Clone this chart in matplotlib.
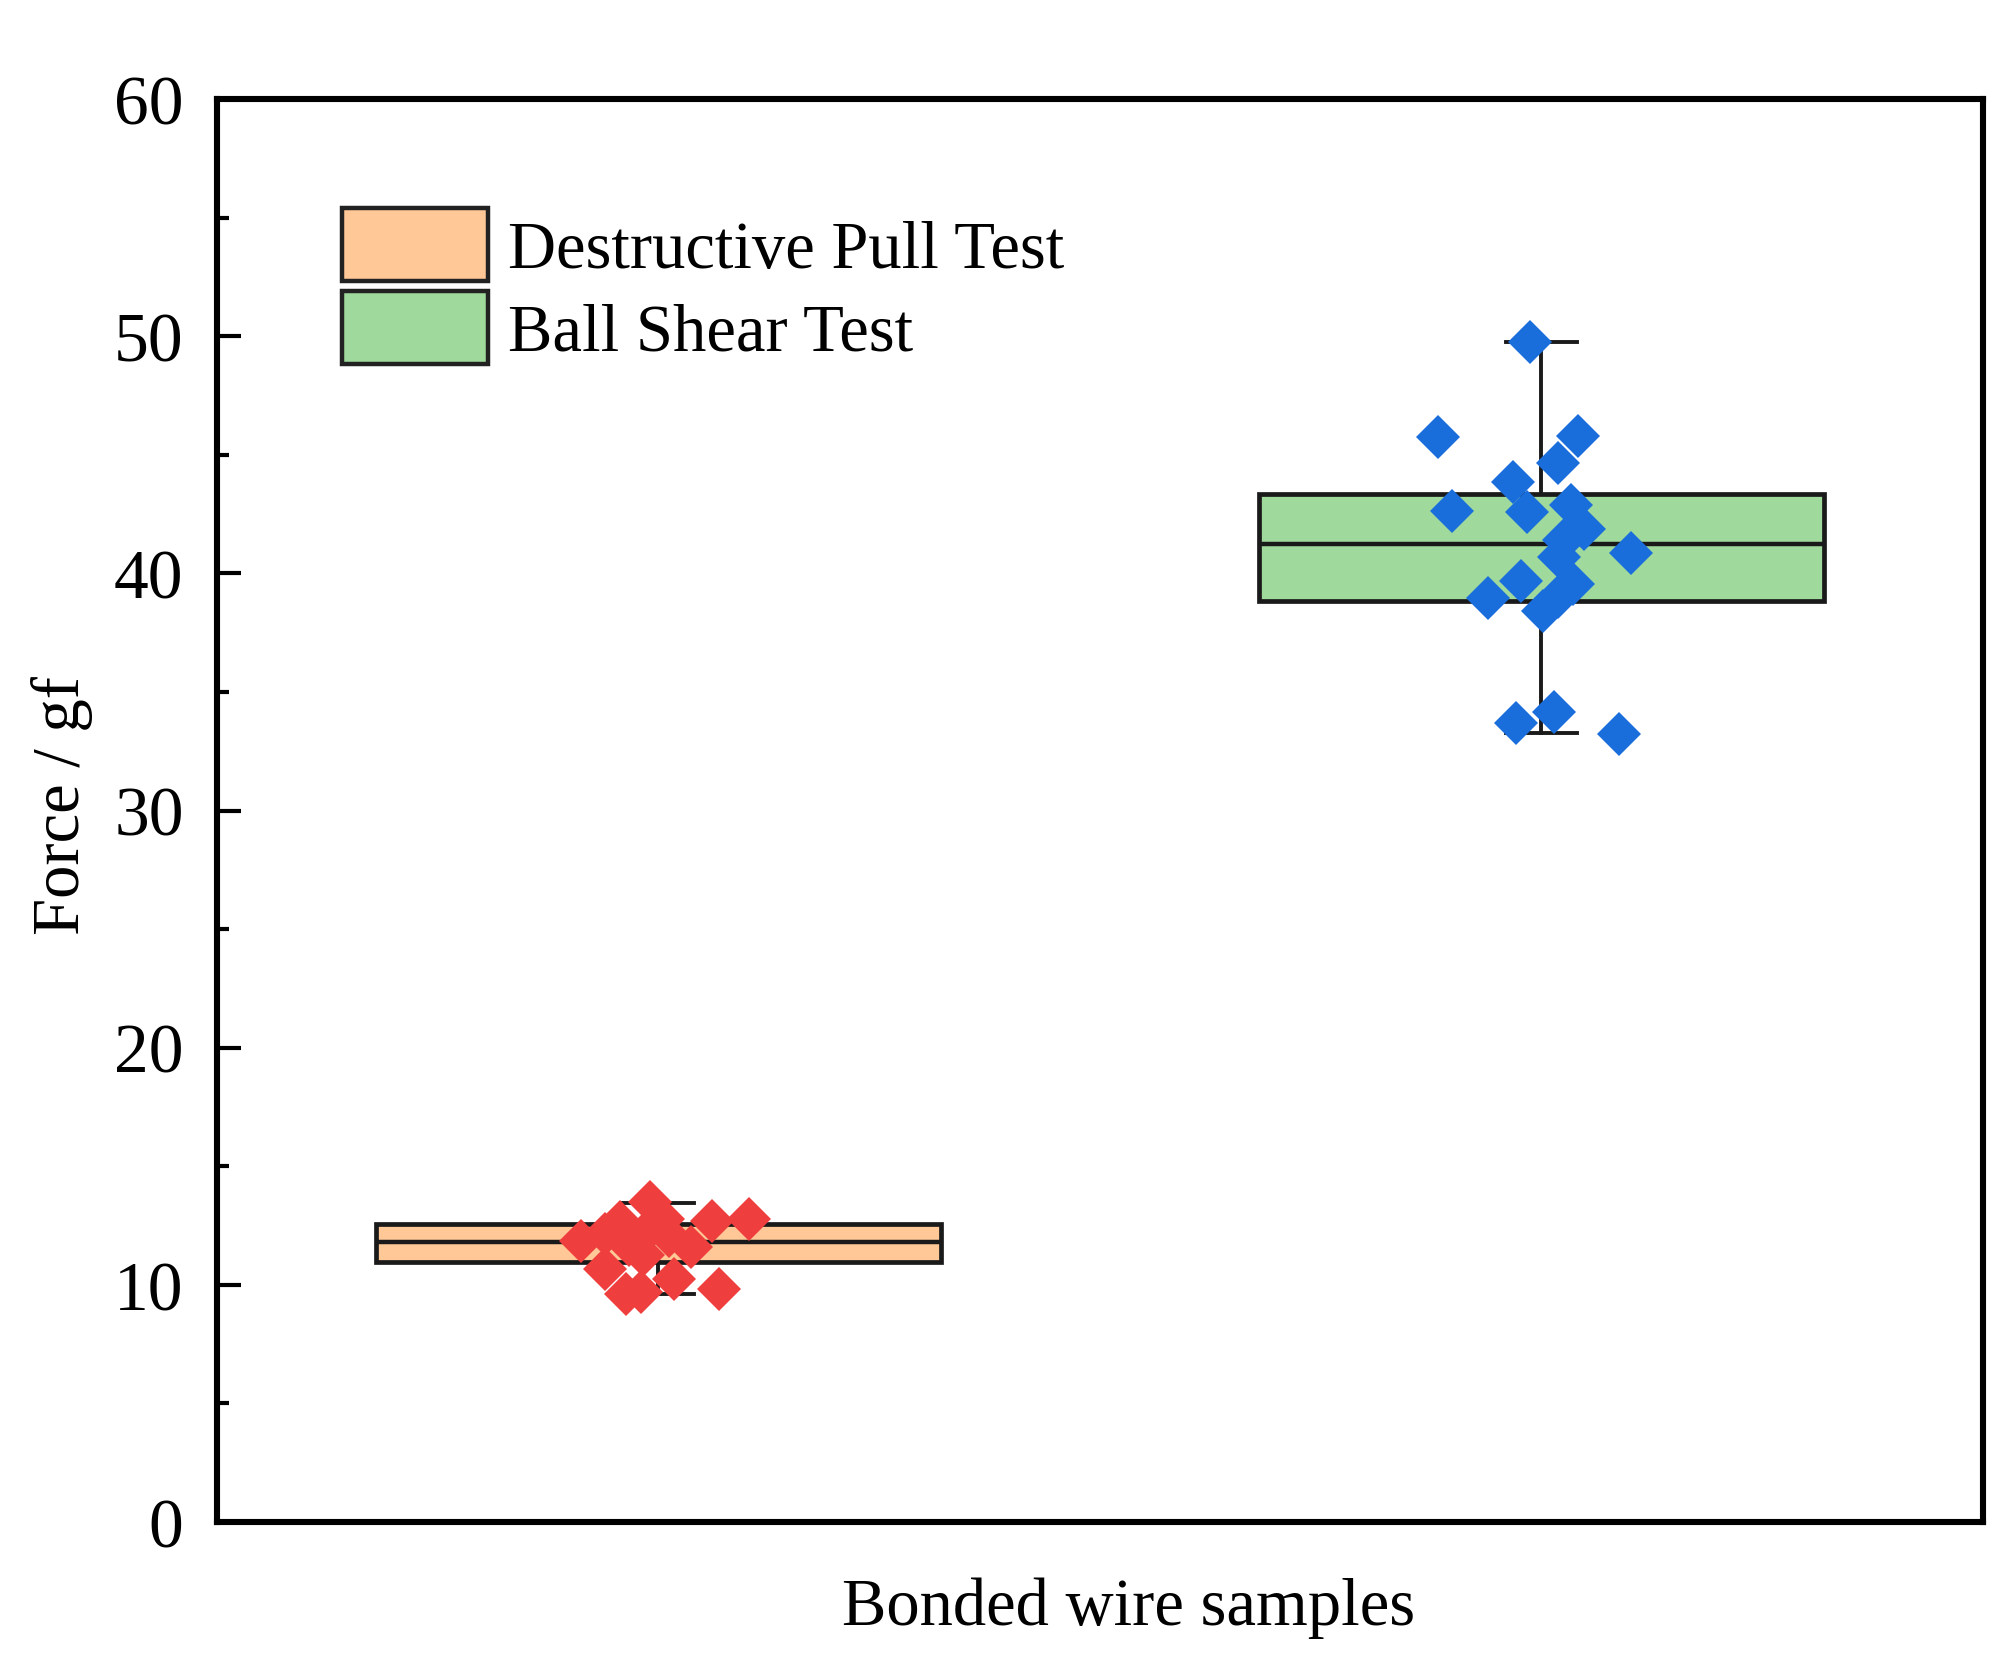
import numpy as np
import matplotlib
matplotlib.use("Agg")
import matplotlib.pyplot as plt
from matplotlib.patches import Patch
from matplotlib.ticker import MultipleLocator

plt.rcParams["font.family"] = ["Liberation Serif", "DejaVu Serif"]

# Data
groups = ["Destructive Pull Test", "Ball Shear Test"]
positions = [1, 2]
box_fill = ["#FFC896", "#9FD99B"]
point_color = ["#EF3E3E", "#1A6EDC"]

# box statistics (whisker low, q1, median, q3, whisker high)
pull_stats = [9.6, 10.95, 11.82, 12.56, 13.45]
shear_stats = [33.25, 38.84, 41.23, 43.36, 49.77]

# individual samples (value, jitter offset from box centre)
pull_vals = [13.49, 12.70, 12.78, 11.86, 12.14, 11.58, 10.67, 9.61, 9.68,
             10.24, 9.82, 12.22, 12.78, 11.67, 11.24, 12.08, 12.65, 11.88]
pull_jit = [-0.009, 0.061, 0.103, -0.088, -0.061, 0.037, -0.061, -0.037, -0.020,
            0.018, 0.069, -0.014, 0.005, -0.033, -0.018, 0.012, -0.044, -0.026]

shear_vals = [49.76, 45.76, 45.80, 44.65, 43.87, 42.61, 42.57, 42.90, 41.86, 41.40,
              40.70, 39.54, 39.00, 38.40, 40.85, 39.69, 38.96, 33.68, 34.16, 33.22]
shear_jit = [-0.013, -0.117, 0.041, 0.019, -0.032, -0.101, -0.016, 0.034, 0.048, 0.026,
             0.020, 0.036, 0.019, 0.002, 0.101, -0.023, -0.061, -0.029, 0.014, 0.088]

stats = []
for lab, s in zip(groups, [pull_stats, shear_stats]):
    stats.append({"label": lab, "whislo": s[0], "q1": s[1], "med": s[2],
                  "q3": s[3], "whishi": s[4], "fliers": []})

fig = plt.figure(figsize=(10.08, 8.29), dpi=200)
ax = fig.add_axes([0.1076, 0.0814, 0.876, 0.8583])

bp = ax.bxp(stats, positions=positions, widths=0.64, patch_artist=True,
            showfliers=False, capwidths=0.08,
            boxprops=dict(linewidth=1.7, edgecolor="#1a1a1a"),
            medianprops=dict(color="#1a1a1a", linewidth=1.6),
            whiskerprops=dict(color="#1a1a1a", linewidth=1.4),
            capprops=dict(color="#1a1a1a", linewidth=1.4))
for patch, c in zip(bp["boxes"], box_fill):
    patch.set_facecolor(c)

# Samples on top
for pos, vals, jit, c in zip(positions, [pull_vals, shear_vals],
                             [pull_jit, shear_jit], point_color):
    xs = pos + np.array(jit)
    ax.plot(xs, vals, linestyle="none", marker="D", ms=11,
            color=c, markeredgewidth=0, zorder=5)

# Axes
ax.set_xlim(0.5, 2.5)
ax.set_ylim(0, 60)
ax.yaxis.set_major_locator(MultipleLocator(10))
ax.yaxis.set_minor_locator(MultipleLocator(5))
ax.tick_params(axis="y", which="major", direction="in", length=8.6, width=1.5,
               labelsize=25, pad=12)
ax.tick_params(axis="y", which="minor", direction="in", length=4.2, width=1.5)
ax.tick_params(axis="x", which="both", bottom=False, labelbottom=False)
for sp in ax.spines.values():
    sp.set_linewidth(2.2)

ax.set_ylabel("Force / gf", fontsize=24)
ax.yaxis.set_label_coords(-0.0878, 0.504)
ax.yaxis.label.set_verticalalignment("center")
ax.set_xlabel("Bonded wire samples", fontsize=24)
ax.xaxis.set_label_coords(0.516, -0.06)
ax.xaxis.label.set_verticalalignment("center")

# Legend
handles = [Patch(facecolor=c, edgecolor="#222222", linewidth=1.6) for c in box_fill]
ax.legend(handles, groups, loc="upper left", bbox_to_anchor=(0.0708, 0.9234),
          frameon=False, fontsize=24, handlelength=2.19, handleheight=1.3,
          handletextpad=0.3, labelspacing=0.16, borderpad=0, borderaxespad=0)

fig.savefig("out.png", dpi=200)
